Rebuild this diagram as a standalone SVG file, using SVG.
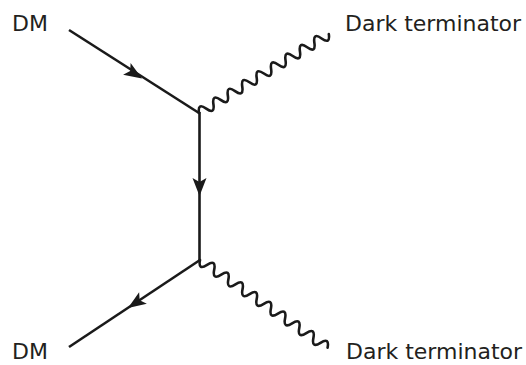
<svg xmlns="http://www.w3.org/2000/svg" width="526" height="365" viewBox="0 0 526 365">
  <style>
    .lbl { font-family: "DejaVu Sans", Verdana, sans-serif; font-size: 22px; fill: #231f20; }
    .fermion { stroke: #1a1a1a; stroke-width: 2.6; fill: none; stroke-linecap: butt; }
    .boson { stroke: #1a1a1a; stroke-width: 2.6; fill: none; stroke-linejoin: round; stroke-linecap: round; }
    .arrow { fill: #1a1a1a; stroke: none; }
  </style>
  <defs>
    <!-- arrowhead pointing along +x, tip at origin -->
    <path id="head" d="M0,0 L-18,-7 L-14,0 L-18,7 Z"/>
    <!-- wavy propagators, 9 periods along +x -->
    <path id="wave152" d="M0,0 q4.22,-10 8.44,0 t8.44,0 t8.44,0 t8.44,0 t8.44,0 t8.44,0 t8.44,0 t8.44,0 t8.44,0 t8.44,0 t8.44,0 t8.44,0 t8.44,0 t8.44,0 t8.44,0 t8.44,0 t8.44,0 t8.44,0"/>
    <path id="wave155" d="M0,0 q4.3,10 8.6,0 t8.6,0 t8.6,0 t8.6,0 t8.6,0 t8.6,0 t8.6,0 t8.6,0 t8.6,0 t8.6,0 t8.6,0 t8.6,0 t8.6,0 t8.6,0 t8.6,0 t8.6,0 t8.6,0 t8.6,0"/>
  </defs>

  <g id="connectors">
    <!-- incoming DM -->
    <line class="fermion" x1="69" y1="30" x2="199" y2="113"/>
    <use href="#head" class="arrow" transform="translate(142,78.5) rotate(32.6)"/>
    <!-- internal propagator -->
    <line class="fermion" x1="199.5" y1="112" x2="199.5" y2="261"/>
    <use href="#head" class="arrow" transform="translate(199.5,196) rotate(90)"/>
    <!-- outgoing DM -->
    <line class="fermion" x1="200" y1="260" x2="69" y2="347"/>
    <use href="#head" class="arrow" transform="translate(128,308) rotate(146.4)"/>
    <!-- dark terminators -->
    <use href="#wave152" class="boson" transform="translate(199,113) rotate(-31.3)"/>
    <use href="#wave155" class="boson" transform="translate(200,260) rotate(34.5)"/>
  </g>

  <g id="dm-in"><text class="lbl" x="12" y="31">DM</text></g>
  <g id="dark-terminator-top"><text class="lbl" x="345" y="31">Dark terminator</text></g>
  <g id="dm-out"><text class="lbl" x="12" y="359">DM</text></g>
  <g id="dark-terminator-bottom"><text class="lbl" x="346" y="359">Dark terminator</text></g>
</svg>
